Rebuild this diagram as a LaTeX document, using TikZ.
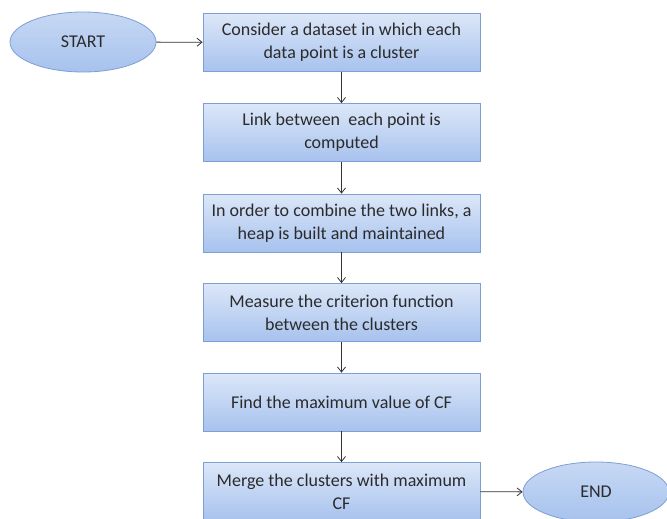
\documentclass[tikz,border=0pt]{standalone}
\usepackage{fontspec}
\setmainfont{Carlito}
\usetikzlibrary{shapes.geometric,arrows.meta}
\definecolor{boxtop}{HTML}{DCE7F8}
\definecolor{boxbot}{HTML}{A7C2EE}
\definecolor{boxline}{HTML}{7D9FD3}
\definecolor{txt}{HTML}{2B2B2B}
\tikzset{
  stepbox/.style={draw=boxline, line width=0.8pt, top color=boxtop, bottom color=boxbot,
    minimum width=277pt, minimum height=58pt, align=center,
    inner sep=0pt, font=\fontsize{18}{23}\selectfont, text=txt},
  term/.style={ellipse, draw=boxline, line width=0.8pt, top color=boxtop!60!boxbot, bottom color=boxbot,
    minimum width=146pt, minimum height=60pt, inner sep=0pt,
    font=\fontsize{18}{23}\selectfont, text=txt},
  conn/.style={draw=black!80, line width=0.8pt, -{Straight Barb[length=5pt,width=8pt]}}
}
\begin{document}
\begin{tikzpicture}[x=1pt,y=-1pt]
\useasboundingbox (0,0) rectangle (667,519);
\node[term] (start) at (83,42) {START};
\node[stepbox] (b1) at (341.5,42.5) {Consider a dataset in which each\\data point is a cluster};
\node[stepbox] (b2) at (341.5,132.5) {Link between\ \ each point\ is\\computed};
\node[stepbox] (b3) at (341.5,223) {In order to\ combine the two links, a\\heap is built and maintained};
\node[stepbox] (b4) at (341.5,312.5) {Measure the criterion function\\between the clusters};
\node[stepbox] (b5) at (341.5,402) {Find the maximum value of CF};
\node[stepbox] (b6) at (341.5,491.5) {Merge the clusters with maximum\\CF};
\node[term] (end) at (596,492) {END};
\draw[conn] (start) -- (b1);
\draw[conn] (b1) -- (b2);
\draw[conn] (b2) -- (b3);
\draw[conn] (b3) -- (b4);
\draw[conn] (b4) -- (b5);
\draw[conn] (b5) -- (b6);
\draw[conn] (b6) -- (end);
\end{tikzpicture}
\end{document}
